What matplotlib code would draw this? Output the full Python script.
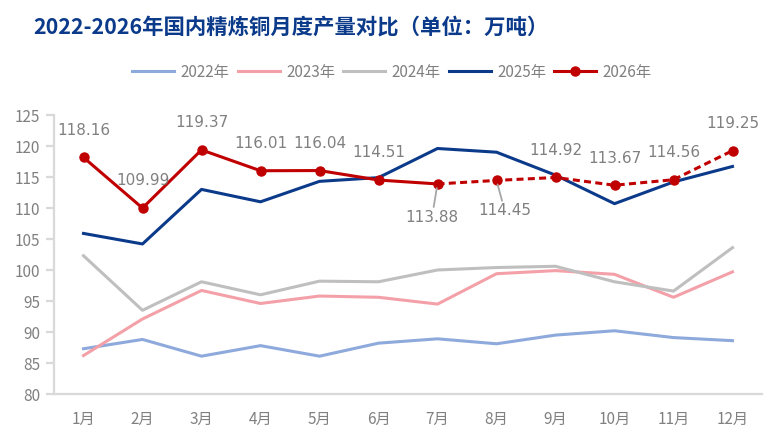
import matplotlib
matplotlib.use("Agg")
import matplotlib.pyplot as plt
import numpy as np

plt.rcParams['font.family'] = ['Noto Sans CJK SC', 'DejaVu Sans']

months = ['1月', '2月', '3月', '4月', '5月', '6月', '7月', '8月', '9月', '10月', '11月', '12月']
series_names = ['2022年', '2023年', '2024年', '2025年', '2026年']
y2022 = [87.3, 88.8, 86.1, 87.8, 86.1, 88.2, 88.9, 88.1, 89.5, 90.2, 89.1, 88.6]
y2023 = [86.2, 92.1, 96.7, 94.6, 95.8, 95.6, 94.5, 99.4, 99.9, 99.3, 95.6, 99.7]
y2024 = [102.3, 93.5, 98.1, 96.0, 98.2, 98.1, 100.0, 100.4, 100.6, 98.1, 96.6, 103.6]
y2025 = [105.9, 104.2, 113.0, 111.0, 114.3, 114.9, 119.6, 119.0, 115.3, 110.7, 114.2, 116.7]
y2026 = [118.16, 109.99, 119.37, 116.01, 116.04, 114.51, 113.88, 114.45, 114.92, 113.67, 114.56, 119.25]
n_actual_2026 = 7  # Jan-Jul solid, Jul-Dec dashed (forecast)

colors = ['#8EA9DB', '#F4A0A8', '#BFBFBF', '#0B3A8A', '#C00000']
label_gray = '#808080'

fig = plt.figure(figsize=(7.84, 4.43), dpi=100)
ax = fig.add_axes([54/784, 1-394/443, (762-54)/784, (394-115)/443])

x = np.arange(len(months))
lw = 2.2
h1, = ax.plot(x, y2022, color=colors[0], lw=lw)
h2, = ax.plot(x, y2023, color=colors[1], lw=lw)
h3, = ax.plot(x, y2024, color=colors[2], lw=lw)
h4, = ax.plot(x, y2025, color=colors[3], lw=lw)
ax.plot(x[:n_actual_2026], y2026[:n_actual_2026], color=colors[4], lw=lw, zorder=5)
ax.plot(x[n_actual_2026-1:], y2026[n_actual_2026-1:], color=colors[4], lw=lw,
        linestyle=(0, (2.3, 1.4)), zorder=5)
ax.plot(x, y2026, color=colors[4], lw=0, marker='o', markersize=6.5, zorder=6)
h5, = ax.plot([], [], color=colors[4], lw=lw, marker='o', markersize=6.5)

label_font = ['DejaVu Sans']
for i, v in enumerate(y2026):
    txt = f'{v:.2f}'
    if i == 6:
        ax.annotate(txt, (x[i], v), xytext=(-4, -24), textcoords='offset points',
                    ha='center', va='center', fontsize=11, color=label_gray, family=label_font,
                    arrowprops=dict(arrowstyle='-', color='#A6A6A6', lw=1.3,
                                    shrinkA=0, shrinkB=3), zorder=7)
    elif i == 7:
        ax.annotate(txt, (x[i], v), xytext=(6, -22), textcoords='offset points',
                    ha='center', va='center', fontsize=11, color=label_gray, family=label_font,
                    arrowprops=dict(arrowstyle='-', color='#A6A6A6', lw=1.3,
                                    shrinkA=0, shrinkB=3), zorder=7)
    else:
        ax.annotate(txt, (x[i], v), xytext=(0, 19.5), textcoords='offset points',
                    ha='center', va='center', fontsize=11, color=label_gray,
                    family=label_font, zorder=7)

ax.set_xlim(-0.5, len(months) - 0.5)
ax.set_ylim(80, 125)
ax.set_yticks(np.arange(80, 126, 5))
ax.set_xticks(x)
ax.set_xticklabels(months)

for s in ['top', 'right']:
    ax.spines[s].set_visible(False)
for s in ['left', 'bottom']:
    ax.spines[s].set_color('#D9D9D9')
    ax.spines[s].set_linewidth(1.6)

ax.tick_params(axis='y', colors='#D9D9D9', labelcolor=label_gray, labelsize=11,
               length=6, width=1.6, pad=4)
ax.tick_params(axis='x', length=0, labelcolor=label_gray, labelsize=11, pad=12)

fig.text(33/784, 1-27/443, '2022-2026年国内精炼铜月度产量对比（单位：万吨）',
         fontsize=15.4, fontweight='bold', color='#0B3A8A', ha='left', va='center')

fig.legend([h1, h2, h3, h4, h5], series_names, loc='center', bbox_to_anchor=(0.5, 1-72/443),
           ncol=5, frameon=False, fontsize=11, labelcolor=label_gray,
           handlelength=2.75, handletextpad=0.4, columnspacing=0.55)

fig.savefig('out.png', dpi=100)
